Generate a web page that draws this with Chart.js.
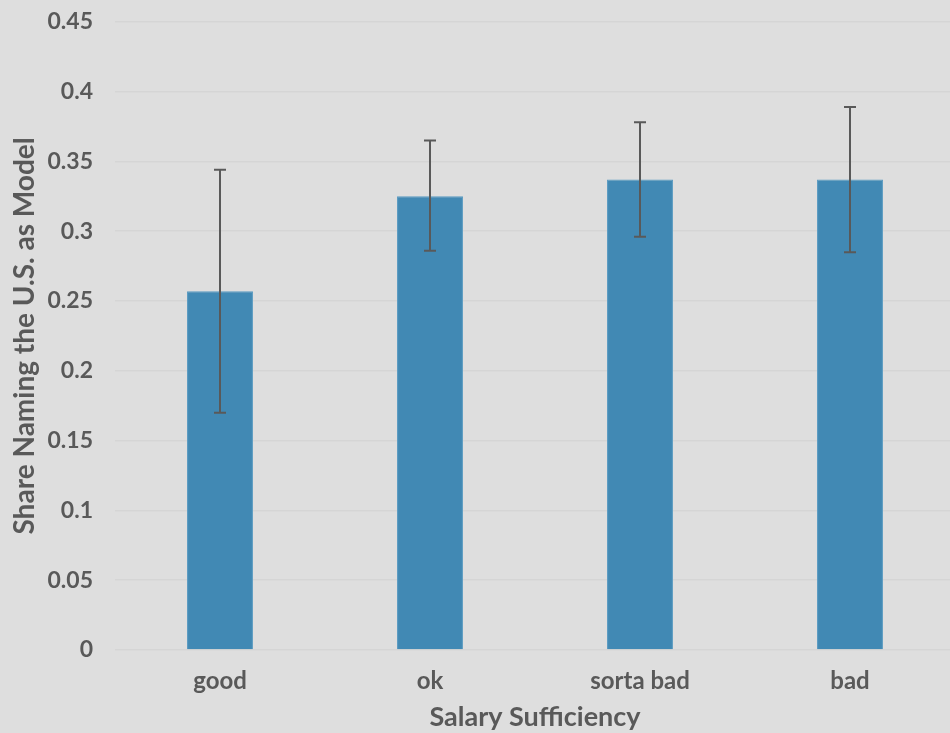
<!DOCTYPE html>
<html>
<head>
<meta charset="utf-8">
<script src="https://cdn.jsdelivr.net/npm/chart.js@4"></script>
<style>
    html, body { margin: 0; padding: 0; background: #dedede; overflow: hidden; }
    #wrap { width: 955px; height: 747px; margin-top: -14px; }
</style>
</head>
<body>
<div id="wrap"><canvas id="salaryChart"></canvas></div>
<script>
const categorias = ['good', 'ok', 'sorta bad', 'bad'];
const valores = [0.257, 0.325, 0.337, 0.337];
const erroMin = [0.170, 0.286, 0.296, 0.285];
const erroMax = [0.344, 0.365, 0.378, 0.389];

const corTexto = '#595959';
const fonte = 'Lato, "Open Sans", sans-serif';

// desenha as barras de erro em cima das barras
const barrasDeErro = {
    id: 'barrasDeErro',
    afterDatasetsDraw(chart) {
        const ctx = chart.ctx;
        const meta = chart.getDatasetMeta(0);
        const y = chart.scales.y;
        ctx.save();
        ctx.strokeStyle = corTexto;
        ctx.lineWidth = 2;
        meta.data.forEach((bar, i) => {
            const topo = y.getPixelForValue(erroMax[i]);
            const base = y.getPixelForValue(erroMin[i]);
            ctx.beginPath();
            ctx.moveTo(bar.x, topo);
            ctx.lineTo(bar.x, base);
            ctx.moveTo(bar.x - 6, topo);
            ctx.lineTo(bar.x + 6, topo);
            ctx.moveTo(bar.x - 6, base);
            ctx.lineTo(bar.x + 6, base);
            ctx.stroke();
        });
        ctx.restore();
    }
};

const ctx = document.getElementById('salaryChart').getContext('2d');
new Chart(ctx, {
    type: 'bar',
    data: {
        labels: categorias,
        datasets: [{
            data: valores,
            backgroundColor: '#4189b4',
            borderColor: '#5a9bc2',
            borderWidth: 1,
            categoryPercentage: 1,
            barPercentage: 0.314
        }]
    },
    options: {
        responsive: true,
        maintainAspectRatio: false,
        animation: false,
        layout: { padding: { top: 6, left: 0, right: 0, bottom: 0 } },
        plugins: {
            legend: { display: false },
            tooltip: { enabled: false }
        },
        scales: {
            x: {
                grid: { display: false },
                border: { display: false },
                ticks: {
                    color: corTexto,
                    padding: 9,
                    font: { family: fonte, size: 24, weight: 'bold' }
                },
                title: {
                    display: true,
                    text: 'Salary Sufficiency',
                    color: corTexto,
                    padding: { top: 2, bottom: 0 },
                    font: { family: fonte, size: 27, weight: 'bold' }
                },
                afterFit(scale) { scale.height = 83; }
            },
            y: {
                min: 0,
                max: 0.45,
                grid: { color: '#d5d5d5', lineWidth: 1.5, drawTicks: false },
                border: { display: false },
                ticks: {
                    stepSize: 0.05,
                    color: corTexto,
                    padding: 22,
                    font: { family: fonte, size: 23, weight: 'bold' },
                    callback: v => parseFloat(v.toFixed(2)).toString()
                },
                title: {
                    display: true,
                    text: 'Share Naming the U.S. as Model',
                    color: corTexto,
                    padding: { top: 8, bottom: 0 },
                    font: { family: fonte, size: 28, weight: 'bold' }
                },
                afterFit(scale) { scale.width = 115; }
            }
        }
    },
    plugins: [barrasDeErro]
});
</script>
</body>
</html>
